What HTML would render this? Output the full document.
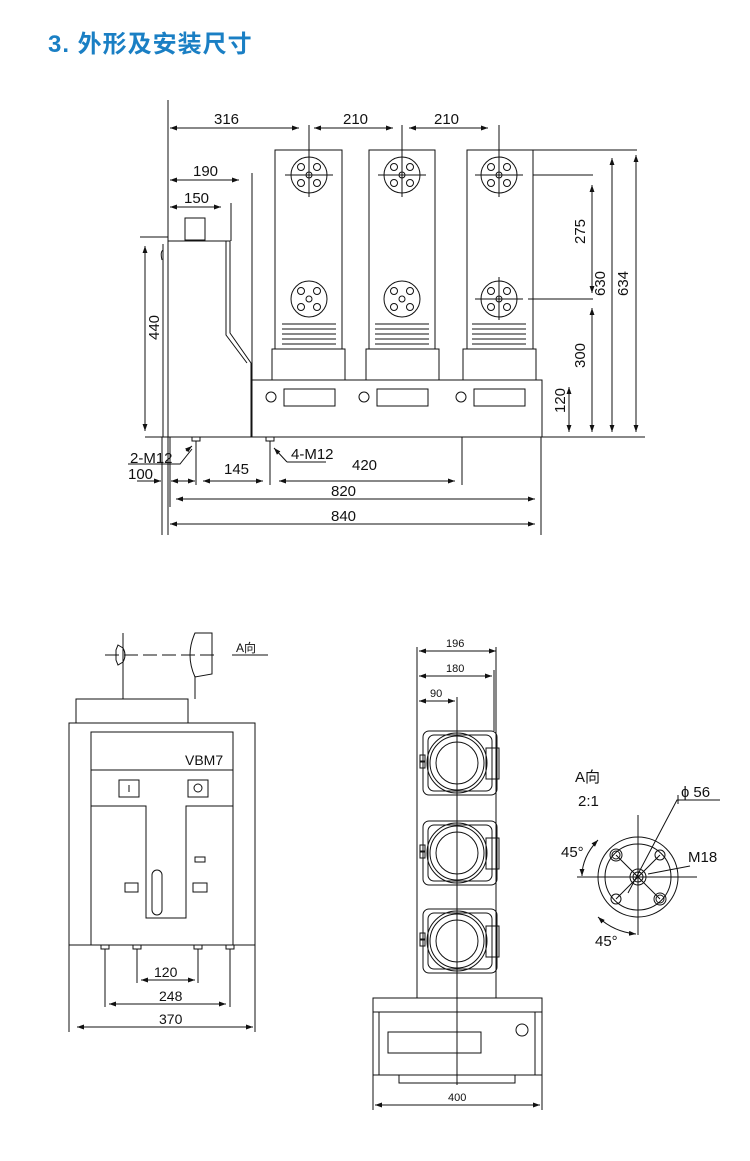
<!DOCTYPE html>
<html><head><meta charset="utf-8"><style>
html,body{margin:0;padding:0;background:#fff;}
svg{display:block}
text{font-family:"Liberation Sans","Noto Sans CJK SC",sans-serif;fill:#111}
</style></head><body>
<svg width="750" height="1161" viewBox="0 0 750 1161" xmlns="http://www.w3.org/2000/svg">
<defs>
<marker id="a" viewBox="0 0 10 10" refX="10" refY="5" markerWidth="7" markerHeight="7" orient="auto-start-reverse"><path d="M0,1.5 L10,5 L0,8.5 z" fill="#111"/></marker>
</defs>
<text x="48" y="52" font-size="24" font-weight="bold" letter-spacing="1" style="fill:#1a7fc4" font-family="'Liberation Sans','Noto Sans CJK SC',sans-serif">3. 外形及安装尺寸</text>

<g stroke="#111" stroke-width="1" fill="none">
<rect x="275" y="150" width="67" height="199"/>
<rect x="369" y="150" width="66" height="199"/>
<rect x="467" y="150" width="66" height="199"/>
<rect x="272" y="349" width="73" height="31"/>
<rect x="366" y="349" width="73" height="31"/>
<rect x="463" y="349" width="73" height="31"/>
<rect x="252" y="380" width="290" height="57"/>
<g id="fl">
<circle cx="309" cy="175" r="18"/>
<circle cx="301" cy="167" r="3.5"/><circle cx="317" cy="167" r="3.5"/><circle cx="301" cy="183" r="3.5"/><circle cx="317" cy="183" r="3.5"/><circle cx="309" cy="175" r="3"/>
<line x1="285" y1="175" x2="333" y2="175"/><line x1="309" y1="125" x2="309" y2="197"/>
<circle cx="309" cy="299" r="18"/>
<circle cx="301" cy="291" r="3.5"/><circle cx="317" cy="291" r="3.5"/><circle cx="301" cy="307" r="3.5"/><circle cx="317" cy="307" r="3.5"/><circle cx="309" cy="299" r="3"/>
<path d="M282 324H336M282 329H336M282 334H336M282 339H336M282 344H336"/>
<circle cx="271" cy="397" r="5"/><rect x="284" y="389" width="51" height="17"/>
</g>
<use href="#fl" x="93"/>
<use href="#fl" x="190"/>
<line x1="475" y1="299" x2="523" y2="299"/><line x1="499" y1="277" x2="499" y2="320"/>
<path d="M168 241H230V333L251 363V437H168Z"/>
<path d="M163 244V437M226 241V335L247 363"/>
<path d="M163 250Q160 252 162 260"/>
<rect x="185" y="218" width="20" height="22"/>
<line x1="231" y1="203" x2="231" y2="241"/>
<line x1="252" y1="173" x2="252" y2="380"/>
<line x1="140" y1="237" x2="168" y2="237"/>
<line x1="145" y1="437" x2="645" y2="437"/>
<rect x="192" y="437" width="8" height="4"/><rect x="266" y="437" width="8" height="4"/>
<path d="M162 437V535M170 437V507M196 441V485M270 441V485M462 437V485M541 437V535M168 100V535"/>
<line x1="170" y1="128" x2="299" y2="128" marker-start="url(#a)" marker-end="url(#a)"/>
<line x1="314" y1="128" x2="393" y2="128" marker-start="url(#a)" marker-end="url(#a)"/>
<line x1="409" y1="128" x2="488" y2="128" marker-start="url(#a)" marker-end="url(#a)"/>
<line x1="170" y1="180" x2="239" y2="180" marker-start="url(#a)" marker-end="url(#a)"/>
<line x1="170" y1="207" x2="221" y2="207" marker-start="url(#a)" marker-end="url(#a)"/>
<line x1="145" y1="246" x2="145" y2="431" marker-start="url(#a)" marker-end="url(#a)"/>
<line x1="137" y1="481" x2="161" y2="481" marker-end="url(#a)"/>
<line x1="171" y1="481" x2="195" y2="481" marker-start="url(#a)" marker-end="url(#a)"/>
<line x1="203" y1="481" x2="263" y2="481" marker-start="url(#a)" marker-end="url(#a)"/>
<line x1="279" y1="481" x2="455" y2="481" marker-start="url(#a)" marker-end="url(#a)"/>
<line x1="176" y1="499" x2="535" y2="499" marker-start="url(#a)" marker-end="url(#a)"/>
<line x1="170" y1="524" x2="535" y2="524" marker-start="url(#a)" marker-end="url(#a)"/>
<path d="M128 464H180L192 449" /><path d="M186 451L192 446" marker-end="url(#a)"/>
<path d="M287 462H326"/><path d="M287 462L274 448" marker-end="url(#a)"/>
<path d="M533 150H637M533 175H593M528 299H593"/>
<line x1="592" y1="185" x2="592" y2="293" marker-start="url(#a)" marker-end="url(#a)"/>
<line x1="592" y1="308" x2="592" y2="432" marker-start="url(#a)" marker-end="url(#a)"/>
<line x1="612" y1="158" x2="612" y2="432" marker-start="url(#a)" marker-end="url(#a)"/>
<line x1="636" y1="155" x2="636" y2="432" marker-start="url(#a)" marker-end="url(#a)"/>
<line x1="569" y1="387" x2="569" y2="432" marker-start="url(#a)" marker-end="url(#a)"/>

<rect x="69" y="723" width="186" height="222"/>
<rect x="76" y="699" width="112" height="24"/>
<rect x="91" y="732" width="142" height="213"/>
<line x1="91" y1="770" x2="233" y2="770"/>
<rect x="119" y="780" width="20" height="17"/><line x1="129" y1="785" x2="129" y2="792"/>
<rect x="188" y="780" width="20" height="17"/><circle cx="198" cy="788" r="4"/>
<path d="M91 806H146V918H186V806H233"/>
<rect x="152" y="870" width="10" height="45" rx="5"/>
<rect x="195" y="857" width="10" height="5"/>
<rect x="125" y="883" width="13" height="9"/><rect x="193" y="883" width="14" height="9"/>
<path d="M101 945h8v4h-8zM133 945h8v4h-8zM194 945h8v4h-8zM226 945h8v4h-8z"/>
<path d="M105 949V1007M137 949V983M198 949V983M230 949V1007M69 945V1032M255 945V1032"/>
<line x1="141" y1="980" x2="195" y2="980" marker-start="url(#a)" marker-end="url(#a)"/>
<line x1="109" y1="1004" x2="226" y2="1004" marker-start="url(#a)" marker-end="url(#a)"/>
<line x1="77" y1="1027" x2="253" y2="1027" marker-start="url(#a)" marker-end="url(#a)"/>
<path d="M123 633V699M195 676V699"/>
<path d="M105 655H217" stroke-dasharray="14 5"/>
<path d="M232 655H268"/>
<path d="M118 645L123 648Q127 655 123 662L118 665L116 660V650Z"/>
<path d="M195 633H212V674L195 677Q185 655 195 633Z"/>

<path d="M417 647V998M496 647V998M494 670V731"/>
<line x1="419" y1="651" x2="496" y2="651" marker-start="url(#a)" marker-end="url(#a)"/>
<line x1="419" y1="676" x2="492" y2="676" marker-start="url(#a)" marker-end="url(#a)"/>
<line x1="419" y1="701" x2="455" y2="701" marker-start="url(#a)" marker-end="url(#a)"/>
<line x1="457" y1="697" x2="457" y2="1085"/>
<g id="md">
<rect x="423" y="731" width="74" height="64" rx="6"/>
<rect x="428" y="735" width="64" height="56" rx="6"/>
<circle cx="457" cy="763" r="30"/>
<circle cx="457" cy="763" r="27"/>
<circle cx="457" cy="763" r="21"/>
<rect x="486" y="748" width="13" height="31"/>
<rect x="420" y="755" width="5" height="6"/><rect x="420" y="762" width="5" height="6"/>
</g>
<use href="#md" y="90"/>
<use href="#md" y="178"/>
<rect x="373" y="998" width="169" height="77"/>
<path d="M373 1012H542M379 1012V1075M535 1012V1075"/>
<rect x="388" y="1032" width="93" height="21"/>
<circle cx="522" cy="1030" r="6"/>
<rect x="399" y="1075" width="116" height="8"/>
<path d="M373 1075V1110M542 1075V1110"/>
<line x1="375" y1="1105" x2="540" y2="1105" marker-start="url(#a)" marker-end="url(#a)"/>

<circle cx="638" cy="877" r="40"/>
<circle cx="638" cy="877" r="33"/>
<path d="M577 877H697M638 815V935M616 855L660 899M660 855L616 899"/>
<circle cx="616" cy="855" r="6"/><circle cx="616" cy="855" r="4"/>
<circle cx="660" cy="855" r="5"/>
<circle cx="616" cy="899" r="5"/>
<circle cx="660" cy="899" r="6"/><circle cx="660" cy="899" r="4"/>
<circle cx="638" cy="877" r="8"/><circle cx="638" cy="877" r="5"/>
<path d="M628 893L677 800H720M678 795V804"/>
<path d="M648 874L690 866"/>
<path d="M598 840Q582 857 582 876" marker-start="url(#a)" marker-end="url(#a)"/>
<path d="M598 917Q614 932 636 934" marker-start="url(#a)" marker-end="url(#a)"/>
</g>

<g font-size="15">
<text x="214" y="124">316</text>
<text x="343" y="124">210</text>
<text x="434" y="124">210</text>
<text x="193" y="176">190</text>
<text x="184" y="203">150</text>
<text transform="translate(159 340) rotate(-90)">440</text>
<text x="130" y="463">2-M12</text>
<text x="291" y="459">4-M12</text>
<text x="128" y="479">100</text>
<text x="224" y="474">145</text>
<text x="352" y="470">420</text>
<text x="331" y="496">820</text>
<text x="331" y="521">840</text>
<text transform="translate(585 244) rotate(-90)">275</text>
<text transform="translate(605 296) rotate(-90)">630</text>
<text transform="translate(628 296) rotate(-90)">634</text>
<text transform="translate(585 368) rotate(-90)">300</text>
<text transform="translate(565 413) rotate(-90)">120</text>
<text x="185" y="765" font-size="14">VBM7</text>
<text x="154" y="977" font-size="14">120</text>
<text x="159" y="1001" font-size="14">248</text>
<text x="159" y="1024" font-size="14">370</text>
<text x="236" y="652" font-size="12">A向</text>
<text x="446" y="647" font-size="11">196</text>
<text x="446" y="672" font-size="11">180</text>
<text x="430" y="697" font-size="11">90</text>
<text x="448" y="1101" font-size="11">400</text>
<text x="575" y="782">A向</text>
<text x="578" y="806">2:1</text>
<text x="681" y="797">ɸ 56</text>
<text x="688" y="862">M18</text>
<text x="561" y="857">45°</text>
<text x="595" y="946">45°</text>
</g>
</svg>
</body></html>
